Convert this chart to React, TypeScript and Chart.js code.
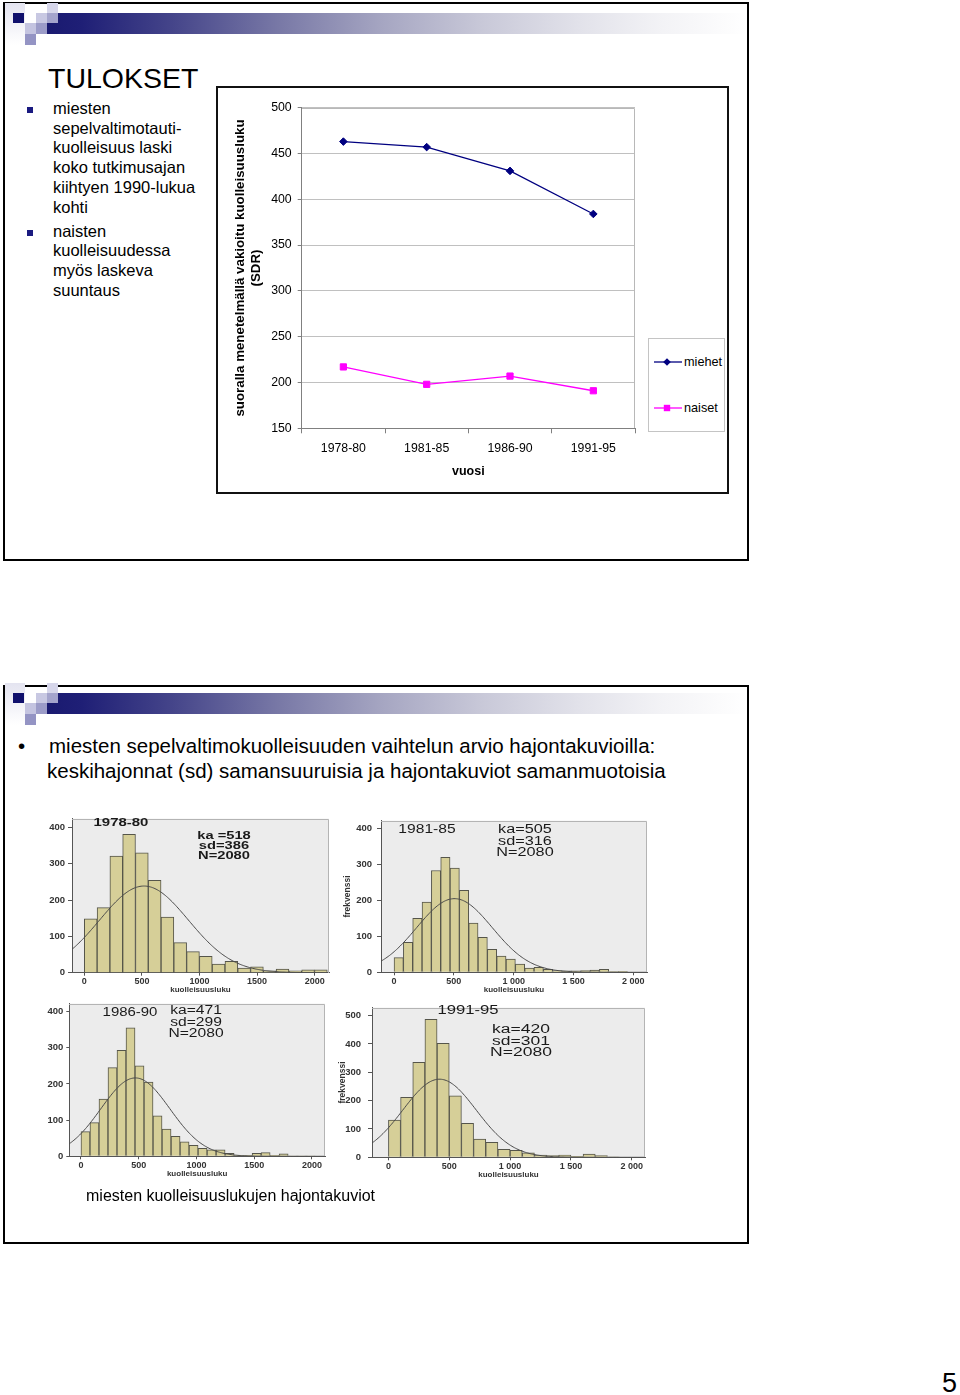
import React, { useEffect, useRef } from "react";
import { Chart, registerables } from "chart.js";

Chart.register(...registerables);

const FONT = "'Liberation Sans', Arial, Helvetica, sans-serif";

// ---------- Slide 1: SDR line chart ----------
const periods = ["1978-80", "1981-85", "1986-90", "1991-95"];
const miehetSDR = [463, 457, 431, 384];
const naisetSDR = [217, 198, 207, 191];
const sdrTickValues = [150, 200, 250, 300, 350, 400, 450, 500];
const seriesNames = ["miehet", "naiset"];

// ---------- Slide 2: histograms ----------
const histPeriods = ["1978-80", "1981-85", "1986-90", "1991-95"];
const histKaPrefix = ["ka =", "ka=", "ka=", "ka="];
const histKa = [518, 505, 471, 420];
const histSd = [386, 316, 299, 301];
const histN = [2080, 2080, 2080, 2080];
const histBinWidth = [111, 78, 78, 100];
const counts1978 = [148, 179, 321, 381, 330, 254, 153, 83, 58, 45, 24, 31, 13, 16, 5, 10, 5, 8, 8];
const counts1981 = [41, 83, 150, 195, 283, 320, 290, 228, 137, 97, 64, 45, 37, 23, 12, 14, 8, 5, 4, 4, 5, 6, 8, 2, 3];
const counts1986 = [68, 93, 158, 245, 293, 355, 250, 205, 112, 75, 55, 40, 30, 22, 18, 18, 8, 3, 3, 8, 10, 3, 7, 1, 1, 1];
const counts1991 = [131, 212, 335, 487, 402, 217, 120, 64, 53, 28, 25, 16, 8, 6, 8, 3, 11, 6, 2];
const histCounts = [counts1978, counts1981, counts1986, counts1991];
const freqTicks4 = [0, 100, 200, 300, 400];
const freqTicks5 = [0, 100, 200, 300, 400, 500];
const histFreqTicks = [freqTicks4, freqTicks4, freqTicks4, freqTicks5];
const rateTickValues = [0, 500, 1000, 1500, 2000];
const rateLabelsPlain = ["0", "500", "1000", "1500", "2000"];
const rateLabelsSpaced = ["0", "500", "1 000", "1 500", "2 000"];
const histRateLabels = [rateLabelsPlain, rateLabelsSpaced, rateLabelsPlain, rateLabelsSpaced];
const histShowFreqTitle = [false, true, false, true];

// layout (page coordinates) — kept apart from the data
const histLayouts = [
  { box: [40, 810, 295, 190], plot: [72, 815, 329, 972.7], xRange: [-107, 2124], yMax: 424, yTickLen: 4, yTickPad: 3, freqPad: 0 },
  { box: [340, 810, 315, 190], plot: [381, 816, 647, 972.3], xRange: [-109, 2114], yMax: 421.6, yTickLen: 4, yTickPad: 5, freqPad: 2.2 },
  { box: [40, 995, 290, 190], plot: [69.3, 999.7, 325, 1156.3], xRange: [-101, 2113], yMax: 421.5, yTickLen: 3, yTickPad: 3, freqPad: 0 },
  { box: [330, 995, 325, 190], plot: [372, 1000, 645, 1157.3], xRange: [-135, 2109], yMax: 528, yTickLen: 4, yTickPad: 7, freqPad: 7.2 },
];
const histTextLayouts = [
  { title: { cx: 120.5, cy: 823, fs: 11.5, sx: 1.3 }, stats: { cx: 223.5, cy: 835, lh: 10, fs: 10.5, sx: 1.4 } },
  { title: { cx: 427, cy: 828, fs: 13, sx: 1.2 }, stats: { cx: 524.5, cy: 830, lh: 11.5, fs: 12.5, sx: 1.3 } },
  { title: { cx: 129.5, cy: 1011, fs: 13, sx: 1.15 }, stats: { cx: 196, cy: 1011, lh: 11.5, fs: 12.5, sx: 1.25 } },
  { title: { cx: 467.5, cy: 1009, fs: 13, sx: 1.28 }, stats: { cx: 521, cy: 1030, lh: 11.5, fs: 12.5, sx: 1.4 } },
];

const plotFrame = {
  id: "plotFrame",
  beforeDraw(chart: any, _a: any, opts: any) {
    if (!opts || !opts.fill) return;
    const a = chart.chartArea;
    const ctx = chart.ctx;
    ctx.save();
    ctx.fillStyle = opts.fill;
    ctx.fillRect(a.left, a.top, a.right - a.left, a.bottom - a.top);
    ctx.restore();
  },
  afterDatasetsDraw(chart: any, _a: any, opts: any) {
    if (!opts || !opts.stroke) return;
    const a = chart.chartArea;
    const ctx = chart.ctx;
    ctx.save();
    ctx.strokeStyle = opts.stroke;
    ctx.lineWidth = 1;
    const r = Math.round(a.right) - 0.5;
    const t = Math.round(a.top) + 0.5;
    ctx.beginPath();
    ctx.moveTo(Math.round(a.left), t);
    ctx.lineTo(r, t);
    ctx.lineTo(r, Math.round(a.bottom));
    ctx.stroke();
    ctx.restore();
  },
};

function SdrChart() {
  const ref = useRef<HTMLCanvasElement>(null);
  useEffect(() => {
    const chart = new Chart(ref.current as HTMLCanvasElement, {
      type: "line",
      data: {
        labels: periods,
        datasets: [
          {
            label: seriesNames[0],
            data: miehetSDR,
            borderColor: "#000080",
            backgroundColor: "#000080",
            borderWidth: 1.3,
            pointStyle: "rectRot",
            pointRadius: 3.8,
            pointBorderWidth: 1,
            tension: 0,
          },
          {
            label: seriesNames[1],
            data: naisetSDR,
            borderColor: "#ff00ff",
            backgroundColor: "#ff00ff",
            borderWidth: 1.3,
            pointStyle: "rect",
            pointRadius: 4.4,
            pointBorderWidth: 1,
            tension: 0,
          },
        ],
      },
      options: {
        responsive: false,
        animation: false,
        layout: { padding: { top: 19.7, right: 10, bottom: 0, left: 0 } },
        plugins: {
          legend: { display: false },
          tooltip: { enabled: false },
          plotFrame: { stroke: "#b8b8b8" },
        } as any,
        scales: {
          x: {
            type: "category",
            offset: true,
            grid: { offset: true, drawOnChartArea: false, tickLength: 5, tickColor: "#808080" },
            border: { color: "#808080" },
            ticks: { color: "#000", font: { family: FONT, size: 12.3 }, padding: 8, maxRotation: 0, autoSkip: false },
            title: {
              display: true,
              text: "vuosi",
              color: "#000",
              font: { family: FONT, size: 12.5, weight: "bold" },
              padding: { top: 0, bottom: 1 },
            },
            afterFit: (s: any) => {
              s.height = 51.7;
            },
          },
          y: {
            min: 150,
            max: 500,
            afterBuildTicks: (s: any) => {
              s.ticks = sdrTickValues.map((v) => ({ value: v }));
            },
            grid: { color: "#c0c0c0", tickLength: 4, tickColor: "#808080" },
            border: { color: "#808080" },
            ticks: { color: "#000", font: { family: FONT, size: 12.3 }, padding: 6 },
            title: {
              display: true,
              text: ["suoralla menetelmällä vakioitu kuolleisuusluku", "(SDR)"],
              color: "#000",
              font: { family: FONT, size: 13.3, weight: "bold", lineHeight: 16 / 13.3 },
              padding: { top: 15, bottom: 0 },
            },
            afterFit: (s: any) => {
              s.width = 84.7;
            },
          },
        },
      } as any,
      plugins: [plotFrame as any],
    });
    return () => chart.destroy();
  }, []);
  return (
    <canvas
      ref={ref}
      width={428}
      height={392}
      style={{ position: "absolute", left: 217, top: 88, width: 428, height: 392 }}
    />
  );
}

function normalCurve(ka: number, sd: number, n: number, bw: number, xMin: number, xMax: number) {
  const pts: { x: number; y: number }[] = [];
  const k = (n * bw) / (sd * Math.sqrt(2 * Math.PI));
  for (let x = xMin; x <= xMax; x += 10) {
    pts.push({ x, y: k * Math.exp(-0.5 * ((x - ka) / sd) ** 2) });
  }
  return pts;
}

function Histogram({ i }: { i: number }) {
  const ref = useRef<HTMLCanvasElement>(null);
  const L = histLayouts[i];
  const [bl, bt, bw, bh] = L.box;
  const [pl, pt, pr, pb] = L.plot;
  const xAxisH = 22;
  useEffect(() => {
    const bin = histBinWidth[i];
    const bars = histCounts[i].map((c, k) => ({ x: (k + 0.5) * bin, y: c }));
    const curve = normalCurve(histKa[i], histSd[i], histN[i], bin, L.xRange[0], L.xRange[1]);
    const labels = histRateLabels[i];
    const yTicks = histFreqTicks[i];
    const yAxisW = pl - bl;
    const padTop = pt - bt;
    const padRight = bl + bw - pr;
    const padBottom = bt + bh - pb - xAxisH;
    const chart = new Chart(ref.current as HTMLCanvasElement, {
      type: "bar",
      data: {
        datasets: [
          {
            type: "line",
            data: curve,
            borderColor: "#4a4a4a",
            borderWidth: 1,
            pointRadius: 0,
            tension: 0,
            order: 1,
          },
          {
            type: "bar",
            data: bars,
            backgroundColor: "#d6cf98",
            borderColor: "#55554a",
            borderWidth: { top: 1, left: 1, right: 1, bottom: 0 },
            barPercentage: 1,
            categoryPercentage: 1,
            order: 2,
          },
        ],
      } as any,
      options: {
        responsive: false,
        animation: false,
        layout: { padding: { top: padTop, right: padRight, bottom: padBottom, left: 0 } },
        plugins: {
          legend: { display: false },
          tooltip: { enabled: false },
          plotFrame: { fill: "#ececec", stroke: "#b4b4b4" },
        } as any,
        scales: {
          x: {
            type: "linear",
            min: L.xRange[0],
            max: L.xRange[1],
            offset: false,
            afterBuildTicks: (s: any) => {
              s.ticks = rateTickValues.map((v) => ({ value: v }));
            },
            ticks: {
              callback: (v: any) => labels[rateTickValues.indexOf(Number(v))],
              font: { family: FONT, size: 9, weight: "bold", lineHeight: 1 },
              color: "#333",
              padding: 1.5,
              maxRotation: 0,
              autoSkip: false,
            },
            grid: { offset: false, drawOnChartArea: false, tickLength: 3, tickColor: "#555" },
            border: { color: "#555" },
            title: {
              display: true,
              text: "kuolleisuusluku",
              color: "#333",
              font: { family: FONT, size: 8, weight: "bold", lineHeight: 1 },
              padding: { top: 0, bottom: 1 },
            },
            afterFit: (s: any) => {
              s.height = xAxisH;
            },
          },
          y: {
            min: 0,
            max: L.yMax,
            afterBuildTicks: (s: any) => {
              s.ticks = yTicks.map((v) => ({ value: v }));
            },
            ticks: { font: { family: FONT, size: 9.5, weight: "bold" }, color: "#333", padding: L.yTickPad },
            grid: { drawOnChartArea: false, tickLength: L.yTickLen, tickColor: "#555" },
            border: { color: "#555" },
            title: {
              display: histShowFreqTitle[i],
              text: "frekvenssi",
              color: "#333",
              font: { family: FONT, size: 8.5, weight: "bold" },
              padding: { top: L.freqPad, bottom: 0 },
            },
            afterFit: (s: any) => {
              s.width = yAxisW;
            },
          },
        },
      } as any,
      plugins: [plotFrame as any],
    });
    return () => chart.destroy();
  }, [i]);
  const T = histTextLayouts[i];
  const bold = i === 0 ? "bold" : "normal";
  const statLines = [`${histKaPrefix[i]}${histKa[i]}`, `sd=${histSd[i]}`, `N=${histN[i]}`];
  return (
    <>
      <canvas
        ref={ref}
        width={bw}
        height={bh}
        style={{ position: "absolute", left: bl, top: bt, width: bw, height: bh }}
      />
      <div
        style={{
          position: "absolute",
          left: T.title.cx,
          top: T.title.cy,
          fontSize: T.title.fs,
          lineHeight: `${T.title.fs}px`,
          fontWeight: bold,
          color: "#1a1a1a",
          whiteSpace: "nowrap",
          transform: `translate(-50%, -50%) scaleX(${T.title.sx})`,
        }}
      >
        {histPeriods[i]}
      </div>
      <div
        style={{
          position: "absolute",
          left: T.stats.cx,
          top: T.stats.cy - T.stats.lh / 2,
          fontSize: T.stats.fs,
          lineHeight: `${T.stats.lh}px`,
          fontWeight: bold,
          color: "#1a1a1a",
          whiteSpace: "nowrap",
          textAlign: "center",
          transform: `translateX(-50%) scaleX(${T.stats.sx})`,
        }}
      >
        {statLines.map((s) => (
          <div key={s}>{s}</div>
        ))}
      </div>
    </>
  );
}

function SlideHeader({ top }: { top: number }) {
  const sq = (l: number, t: number, w: number, h: number, c: string) => (
    <div key={`${l}-${t}`} style={{ position: "absolute", left: l, top: top + t, width: w, height: h, background: c }} />
  );
  return (
    <>
      <div
        style={{
          position: "absolute",
          left: 5,
          top: top + 3,
          width: 20,
          height: 42,
          background: "linear-gradient(to bottom, #e4e4f0, #ffffff)",
        }}
      />
      <div
        style={{
          position: "absolute",
          left: 47,
          top: top + 13,
          width: 700,
          height: 21,
          background:
            "linear-gradient(to right, #1a1a70 0%, #1f1f76 5%, #45458a 18%, #7878a6 33%, #a6a6c2 48%, #c8c8d8 62%, #e2e2ea 76%, #f3f3f6 88%, #ffffff 100%)",
        }}
      />
      {sq(13, 13, 11, 10, "#10106c")}
      {sq(36, 13, 11, 10, "#c8c8e2")}
      {sq(47, 3, 11, 10, "#d6d6ea")}
      {sq(47, 13, 11, 10, "#a4a4cc")}
      {sq(25, 23, 11, 11, "#c4c4e0")}
      {sq(36, 23, 11, 11, "#9c9cc8")}
      {sq(25, 34, 11, 11, "#9494c4")}
    </>
  );
}

function Legend() {
  const entry = (y: number, name: string, color: string, shape: "diamond" | "square") => (
    <div key={name}>
      <svg style={{ position: "absolute", left: 654, top: y - 5 }} width={28} height={10}>
        <line x1={0} y1={5} x2={28} y2={5} stroke={color} strokeWidth={1.3} />
        {shape === "diamond" ? (
          <polygon points="13,1.2 16.8,5 13,8.8 9.2,5" fill={color} />
        ) : (
          <rect x={9.8} y={1.8} width={6.4} height={6.4} fill={color} />
        )}
      </svg>
      <div
        style={{
          position: "absolute",
          left: 684,
          top: y - 7,
          fontSize: 12.7,
          lineHeight: "14px",
          color: "#000",
          whiteSpace: "nowrap",
        }}
      >
        {name}
      </div>
    </div>
  );
  return (
    <>
      <div
        style={{
          position: "absolute",
          left: 648,
          top: 338,
          width: 77,
          height: 94,
          border: "1px solid #c4c4c4",
          boxSizing: "border-box",
        }}
      />
      {entry(361.5, seriesNames[0], "#000080", "diamond")}
      {entry(407.5, seriesNames[1], "#ff00ff", "square")}
    </>
  );
}

const bullet1Lines = ["miesten", "sepelvaltimotauti-", "kuolleisuus laski", "koko tutkimusajan", "kiihtyen 1990-lukua", "kohti"];
const bullet2Lines = ["naisten", "kuolleisuudessa", "myös laskeva", "suuntaus"];

export default function App() {
  const abs = (l: number, t: number, extra: React.CSSProperties = {}): React.CSSProperties => ({
    position: "absolute",
    left: l,
    top: t,
    whiteSpace: "nowrap",
    ...extra,
  });
  return (
    <div
      style={{
        position: "absolute",
        left: 0,
        top: 0,
        width: 960,
        height: 1395,
        background: "#fff",
        fontFamily: FONT,
        color: "#000",
        overflow: "hidden",
      }}
    >
      {/* Slide 1 */}
      <div style={{ ...abs(3, 2), width: 746, height: 559, border: "2px solid #000", boxSizing: "border-box" }} />
      <SlideHeader top={0} />
      <div style={abs(48, 64.2, { fontSize: 28.5, lineHeight: "28.5px" })}>TULOKSET</div>
      <div style={abs(27, 107, { width: 6, height: 6, background: "#1a1a80" })} />
      <div style={abs(53, 98.6, { fontSize: 16.5, lineHeight: "19.9px" })}>
        {bullet1Lines.map((l) => (
          <div key={l}>{l}</div>
        ))}
      </div>
      <div style={abs(27, 230, { width: 6, height: 6, background: "#1a1a80" })} />
      <div style={abs(53, 221.5, { fontSize: 16.5, lineHeight: "19.9px" })}>
        {bullet2Lines.map((l) => (
          <div key={l}>{l}</div>
        ))}
      </div>
      <div style={{ ...abs(216, 86), width: 513, height: 408, border: "2px solid #111", boxSizing: "border-box" }} />
      <SdrChart />
      <Legend />

      {/* Slide 2 */}
      <div style={{ ...abs(3, 685), width: 746, height: 559, border: "2px solid #000", boxSizing: "border-box" }} />
      <SlideHeader top={680} />
      <div style={abs(18, 733, { fontSize: 20.5, lineHeight: "25px" })}>•</div>
      <div style={abs(49, 733, { fontSize: 20.5, lineHeight: "25px" })}>
        miesten sepelvaltimokuolleisuuden vaihtelun arvio hajontakuvioilla:
      </div>
      <div style={abs(47, 758, { fontSize: 20.5, lineHeight: "25px" })}>
        keskihajonnat (sd) samansuuruisia ja hajontakuviot samanmuotoisia
      </div>
      {[0, 1, 2, 3].map((i) => (
        <Histogram key={i} i={i} />
      ))}
      <div style={abs(86, 1186, { fontSize: 16, lineHeight: "20px" })}>miesten kuolleisuuslukujen hajontakuviot</div>

      <div style={abs(942, 1370, { fontSize: 27, lineHeight: "27px" })}>5</div>
    </div>
  );
}
